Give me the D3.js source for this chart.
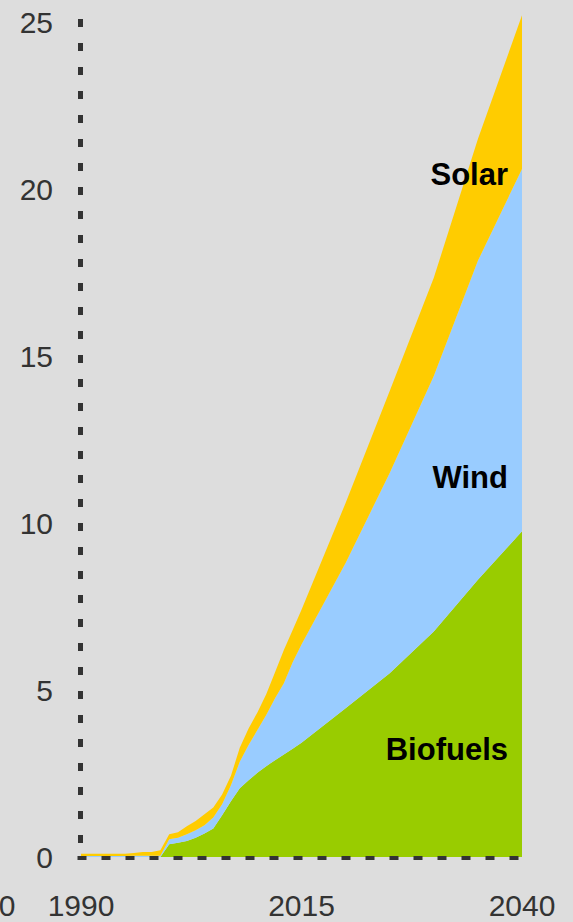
<!DOCTYPE html>
<html>
<head>
<meta charset="utf-8">
<script src="https://cdn.jsdelivr.net/npm/d3@7"></script>
<style>
  html, body { margin: 0; padding: 0; background: #dddddd; }
  svg { display: block; }
</style>
</head>
<body>
<script>
// ---- data ----
const years = [1990,1991,1992,1993,1994,1995,1996,1997,1998,1999,
               2000,2001,2002,2003,2004,2005,2006,2007,2008,2009,
               2010,2011,2012,2013,2014,2015,2020,2025,2030,2035,2040];
const biofuels = [0,0,0,0,0,0,0,0,0,0,
                  0.38,0.43,0.48,0.58,0.70,0.85,1.25,1.67,2.06,2.30,
                  2.52,2.72,2.90,3.07,3.24,3.42,4.45,5.50,6.75,8.30,9.75];
const wind = [0.03,0.03,0.03,0.03,0.03,0.03,0.04,0.04,0.04,0.04,
              0.15,0.15,0.20,0.22,0.25,0.33,0.33,0.48,0.79,1.05,
              1.28,1.53,1.85,2.13,2.59,2.94,4.35,6.00,7.65,9.55,10.85];
const solar = [0.07,0.07,0.07,0.07,0.07,0.07,0.08,0.11,0.11,0.16,
               0.15,0.16,0.24,0.28,0.33,0.30,0.29,0.28,0.42,0.50,
               0.53,0.62,0.78,1.00,0.97,1.04,1.80,2.45,2.94,3.65,4.60];
const seriesNames = ["Biofuels","Wind","Solar"];
const seriesColors = ["#99cc00","#99ccff","#ffcc00"];
const yTicks = [0,5,10,15,20,25];
const xTickLabels = ["1990","2015","2040"];

// ---- layout ----
const W = 573, H = 922;
const svg = d3.select("body").append("svg").attr("width", W).attr("height", H);
svg.append("rect").attr("width", W).attr("height", H).attr("fill", "#dddddd");

const x = d3.scaleLinear().domain([1990, 2040]).range([81, 522]);
const y = d3.scaleLinear().domain([0, 25]).range([857, 22]);

const table = years.map((yr, i) => ({year: yr, Biofuels: biofuels[i], Wind: wind[i], Solar: solar[i]}));
const stacked = d3.stack().keys(seriesNames)(table);

const area = d3.area()
  .x(d => x(d.data.year))
  .y0(d => y(d[0]))
  .y1(d => y(d[1]));

svg.append("g").selectAll("path").data(stacked).join("path")
  .attr("d", area)
  .attr("fill", (d, i) => seriesColors[i]);

// ---- axes (dotted) ----
svg.append("line")
  .attr("x1", 80.5).attr("x2", 80.5)
  .attr("y1", 19).attr("y2", 857)
  .attr("stroke", "#333333").attr("stroke-width", 5)
  .attr("stroke-dasharray", "8,16");

svg.append("line")
  .attr("x1", 77.5).attr("x2", 522)
  .attr("y1", 858).attr("y2", 858)
  .attr("stroke", "#333333").attr("stroke-width", 4)
  .attr("stroke-dasharray", "9,15");

// y tick labels
svg.append("g").selectAll("text").data(yTicks).join("text")
  .attr("x", 53)
  .attr("y", d => y(d))
  .attr("dy", "0.36em")
  .attr("text-anchor", "end")
  .attr("font-family", "Liberation Sans, Arial, sans-serif")
  .attr("font-size", 30)
  .attr("fill", "#333333")
  .text(d => d);

// x tick labels
svg.append("g").selectAll("text").data(xTickLabels).join("text")
  .attr("x", d => x(+d))
  .attr("y", 916)
  .attr("text-anchor", "middle")
  .attr("font-family", "Liberation Sans, Arial, sans-serif")
  .attr("font-size", 30)
  .attr("fill", "#333333")
  .text(d => d);

// clipped neighbour label at far left
svg.append("text")
  .attr("x", 15.5).attr("y", 916)
  .attr("text-anchor", "end")
  .attr("font-family", "Liberation Sans, Arial, sans-serif")
  .attr("font-size", 30)
  .attr("fill", "#333333")
  .text("0");

// series labels
const labelPos = [{name: "Biofuels", yb: 760}, {name: "Wind", yb: 488}, {name: "Solar", yb: 185}];
svg.append("g").selectAll("text").data(labelPos).join("text")
  .attr("x", 508)
  .attr("y", d => d.yb)
  .attr("text-anchor", "end")
  .attr("font-family", "Liberation Sans, Arial, sans-serif")
  .attr("font-weight", "bold")
  .attr("font-size", 31)
  .attr("fill", "#000000")
  .text(d => d.name);
</script>
</body>
</html>
